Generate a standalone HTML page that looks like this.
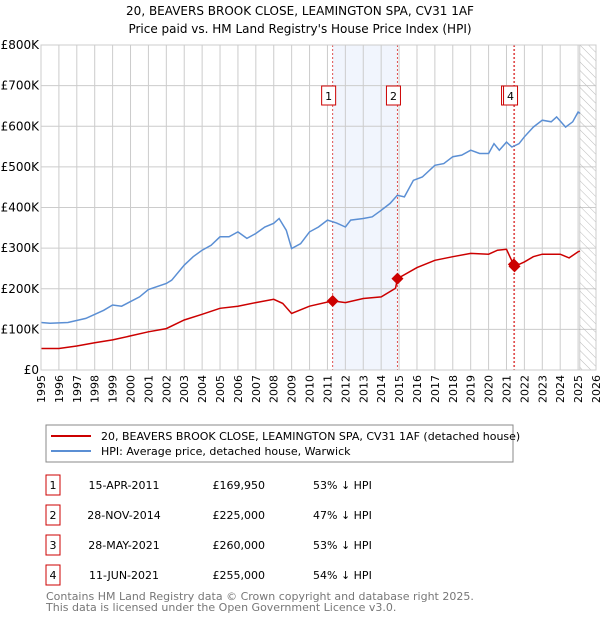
<!DOCTYPE html>
<html><head><meta charset="utf-8"><style>
body{margin:0;background:#fff;font-family:"DejaVu Sans","Liberation Sans",sans-serif;}
svg text{font-family:"DejaVu Sans","Liberation Sans",sans-serif;}
</style></head><body>
<svg id="c" width="600" height="620" xmlns="http://www.w3.org/2000/svg">
<defs><pattern id="hatch" width="6" height="6" patternUnits="userSpaceOnUse" patternTransform="rotate(-45)"><line x1="0" y1="0" x2="0" y2="6" stroke="#bbb" stroke-width="1"/></pattern></defs>
<text x="300" y="15" text-anchor="middle" font-size="12">20, BEAVERS BROOK CLOSE, LEAMINGTON SPA, CV31 1AF</text>
<text x="300" y="33" text-anchor="middle" font-size="12">Price paid vs. HM Land Registry's House Price Index (HPI)</text>
<g id="plot"></g>
<rect x="46" y="425" width="467" height="37" fill="#fff" stroke="#888"/>
<line x1="51" y1="436" x2="91" y2="436" stroke="#cc0000" stroke-width="2"/>
<text x="101" y="440" font-size="11">20, BEAVERS BROOK CLOSE, LEAMINGTON SPA, CV31 1AF (detached house)</text>
<line x1="51" y1="451" x2="91" y2="451" stroke="#5b8fd4" stroke-width="2"/>
<text x="101" y="455" font-size="11">HPI: Average price, detached house, Warwick</text>
<g id="table"></g>
<text x="46" y="600" font-size="11" fill="#777">Contains HM Land Registry data © Crown copyright and database right 2025.</text>
<text x="46" y="611" font-size="11" fill="#777">This data is licensed under the Open Government Licence v3.0.</text>
</svg>
<script>
const hpiYears=[1995,1995.5,1996.5,1997.5,1998.5,1999,1999.5,2000.5,2001,2002,2002.3,2003,2003.5,2004,2004.5,2005,2005.5,2006,2006.5,2007,2007.5,2008,2008.3,2008.7,2009,2009.5,2010,2010.5,2011,2011.5,2012,2012.3,2013,2013.5,2014,2014.5,2014.9,2015.3,2015.8,2016.3,2017,2017.5,2018,2018.5,2019,2019.5,2020,2020.3,2020.6,2021,2021.3,2021.7,2022,2022.5,2023,2023.5,2023.8,2024.3,2024.7,2025,2025.1];
const hpiValues=[117,115,117,127,147,160,157,180,198,213,221,258,279,295,307,328,328,340,324,336,352,361,373,344,299,311,340,352,369,362,352,369,373,377,393,410,430,426,467,475,504,508,525,529,541,533,533,557,541,561,549,557,574,598,615,611,623,598,611,635,632];
const ppYears=[1995,1996,1997,1998,1999,2000,2001,2002,2003,2004,2005,2006,2007,2008,2008.5,2009,2010,2011.29,2012,2013,2014,2014.8,2014.91,2016,2017,2018,2019,2020,2020.5,2021,2021.41,2021.45,2022,2022.5,2023,2024,2024.5,2025,2025.1];
const ppValues=[53,53,59,67,74,84,94,102,123,137,152,157,166,174,164,139,157,170,166,176,180,201,225,252,270,279,287,285,295,297,258,255,266,279,285,285,276,291,293];
const saleYears=[2011.29,2014.91,2021.41,2021.45];
const saleValues=[169.95,225,260,255];
const saleLabels=["1","2","3","4"];
const saleDates=["15-APR-2011","28-NOV-2014","28-MAY-2021","11-JUN-2021"];
const salePrices=["£169,950","£225,000","£260,000","£255,000"];
const salePct=["53% ↓ HPI","47% ↓ HPI","53% ↓ HPI","54% ↓ HPI"];
const yTicks=[0,100,200,300,400,500,600,700,800];
const yTickLabels=["£0","£100K","£200K","£300K","£400K","£500K","£600K","£700K","£800K"];
const NS="http://www.w3.org/2000/svg";
const X0=41,X1=596,Y0=370,Y1=45;
const xs=y=>X0+(y-1995)*(X1-X0)/31;
const ys=v=>Y0-v*(Y0-Y1)/800;
const g=document.getElementById('plot');
function el(t,a,p){const e=document.createElementNS(NS,t);for(const k in a)e.setAttribute(k,a[k]);(p||g).appendChild(e);return e;}
let r=el('rect',{x:xs(saleYears[0]),y:Y1,width:xs(saleYears[1])-xs(saleYears[0]),height:Y0-Y1,fill:'#eef3fc',opacity:0.8});


for(let yr=1995;yr<=2026;yr++){
 let l=el('line',{x1:xs(yr),x2:xs(yr),y1:Y1,y2:Y0,stroke:'#ccc','stroke-width':1});
 
 
 let t=el('text',{x:0,y:0,'font-size':11,'text-anchor':'end',transform:`translate(${xs(yr)+4},${Y0+5}) rotate(-90)`});
 t.textContent=yr;
 
 
}
yTicks.forEach((v,i)=>{
 let l=el('line',{x1:X0,x2:X1,y1:ys(v),y2:ys(v),stroke:'#ccc','stroke-width':1});
 
 
 let t=el('text',{x:X0-2,y:ys(v)+4,'font-size':12,'text-anchor':'end'});
 t.textContent=yTickLabels[i];
 
 
});
let h=el('rect',{x:xs(2025.1),y:Y1,width:X1-xs(2025.1),height:Y0-Y1,fill:'url(#hatch)',stroke:'#999','stroke-width':0.5});


saleYears.forEach((yr,i)=>{
 let l=el('line',{x1:xs(yr),x2:xs(yr),y1:Y1,y2:Y0,stroke:'#e05050','stroke-width':1,'stroke-dasharray':'2,2'});
 
 
});
function path(xa,va,c,name){
 let d=xa.map((x,i)=>(i?'L':'M')+xs(x).toFixed(1)+','+ys(va[i]).toFixed(1)).join('');
 let p=el('path',{d:d,fill:'none',stroke:c,'stroke-width':1.5});
 
 
}
path(hpiYears,hpiValues,'#5b8fd4','hpi-line');
path(ppYears,ppValues,'#cc0000','price-paid-line');
saleYears.forEach((yr,i)=>{
 let cx=xs(yr),cy=ys(saleValues[i]);
 let p=el('path',{d:`M${cx},${cy-6}L${cx+6},${cy}L${cx},${cy+6}L${cx-6},${cy}Z`,fill:'#cc0000'});
 
 
});
[0,1,2,3].forEach(i=>{
 if(i==2)return;
 let cx=xs(saleYears[i])-4;
 if(i==3){let b=el('rect',{x:cx-9,y:86,width:14,height:19,fill:'#fff',stroke:'#cc0000'});}
 let b=el('rect',{x:cx-7,y:86,width:14,height:19,fill:'#fff',stroke:'#cc0000'});
 
 
 let t=el('text',{x:cx,y:100,'font-size':11,'text-anchor':'middle'});
 t.textContent=saleLabels[i];
 
 
});
let ax=el('rect',{x:X0,y:Y1,width:X1-X0,height:Y0-Y1,fill:'none',stroke:'#ccc'});


const tg=document.getElementById('table');
saleLabels.forEach((lb,i)=>{
 const y=485+i*30;
 let b=el('rect',{x:46,y:y-10,width:14,height:20,fill:'#fff',stroke:'#cc0000'},tg);
 
 
 const cells=[[53,lb,'middle','table-row-number'],[124,saleDates[i],'middle','table-row-date'],[265,salePrices[i],'end','table-row-price'],[313,salePct[i],'start','table-row-hpi-diff']];
 cells.forEach(c=>{
  let t=el('text',{x:c[0],y:y+4,'font-size':11,'text-anchor':c[2]},tg);
  t.textContent=c[1];
  
  
 });
});
</script>
</body></html>
